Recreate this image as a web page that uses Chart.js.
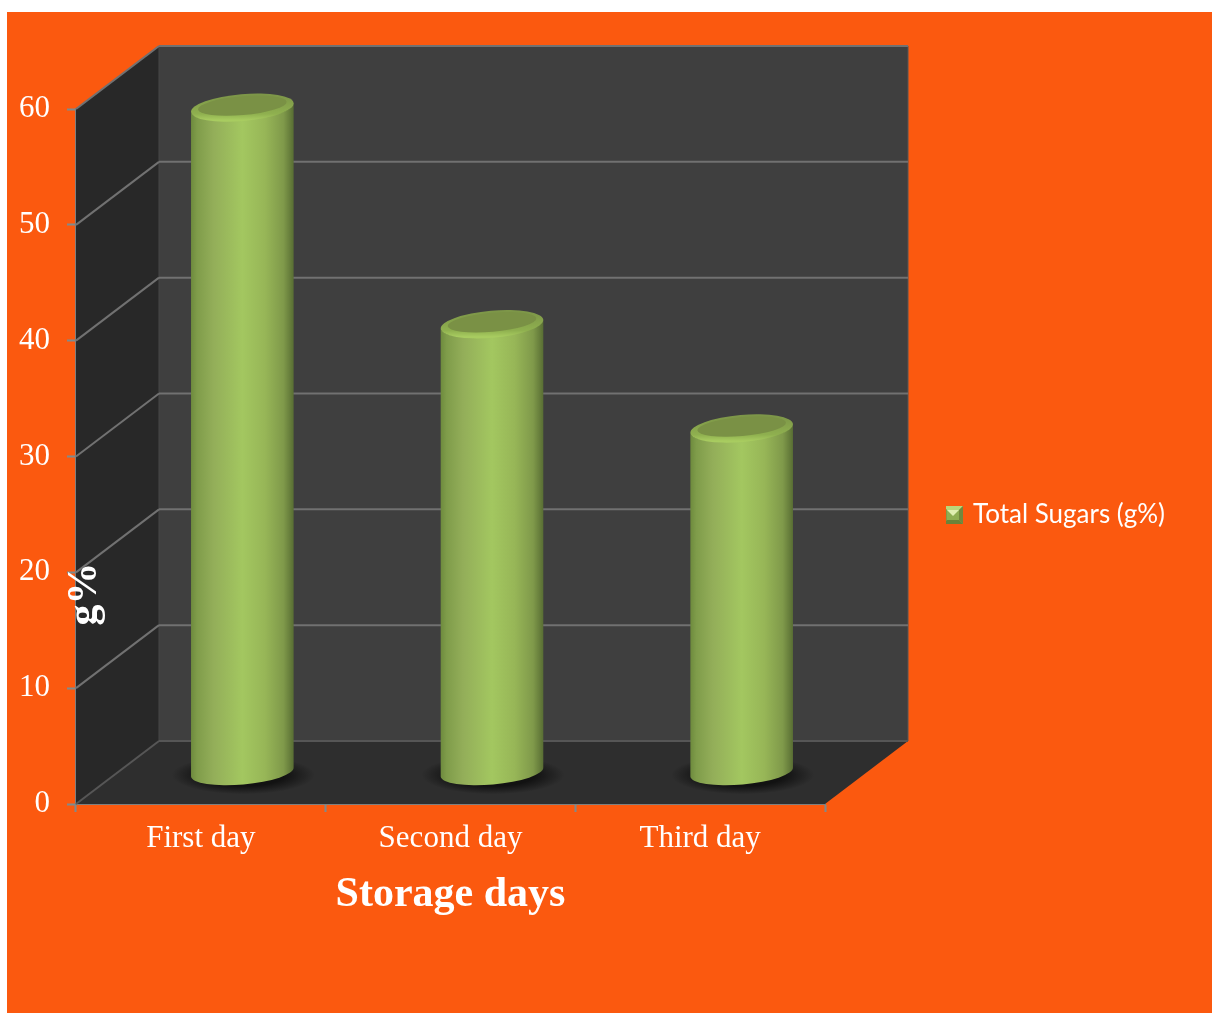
<!DOCTYPE html>
<html>
<head>
<meta charset="utf-8">
<title>Total Sugars</title>
<script src="https://cdn.jsdelivr.net/npm/chart.js@4"></script>
<style>
  html, body { margin: 0; padding: 0; background: #ffffff; }
  canvas { position: absolute; left: 7px; top: 12px; background: #fb590f; }
</style>
</head>
<body>
<canvas id="sugarChart" width="1205" height="1001"></canvas>
<script>
// ===== DATA =====
const categories = ['First day', 'Second day', 'Third day'];
const totalSugars = [57.4, 38.7, 29.7];
const seriesName = 'Total Sugars (g%)';
const yTickValues = [0, 10, 20, 30, 40, 50, 60];

// ===== 3D LOOK =====
const DEPTH_X = 83;
const DEPTH_Y = 63;
const TILT = -5 * Math.PI / 180;
const SERIF = '"Liberation Serif", serif';

function line(ctx, x1, y1, x2, y2, color, width) {
  ctx.strokeStyle = color;
  ctx.lineWidth = width;
  ctx.beginPath();
  ctx.moveTo(x1, y1);
  ctx.lineTo(x2, y2);
  ctx.stroke();
}

function poly(ctx, points, color) {
  ctx.fillStyle = color;
  ctx.beginPath();
  points.forEach((p, i) => i ? ctx.lineTo(p[0], p[1]) : ctx.moveTo(p[0], p[1]));
  ctx.closePath();
  ctx.fill();
}

// back wall, side wall, floor and the gridlines running over them
const wallsPlugin = {
  id: 'walls',
  beforeDatasetsDraw(chart) {
    const { ctx, chartArea: a, scales: { y } } = chart;
    const backLeft = a.left + DEPTH_X;
    const backRight = a.right + DEPTH_X;
    ctx.save();
    poly(ctx, [[backLeft, a.top - DEPTH_Y], [backRight, a.top - DEPTH_Y], [backRight, a.bottom - DEPTH_Y], [backLeft, a.bottom - DEPTH_Y]], '#3f3f3f');
    poly(ctx, [[a.left, a.top], [backLeft, a.top - DEPTH_Y], [backLeft, a.bottom - DEPTH_Y], [a.left, a.bottom]], '#282828');
    poly(ctx, [[a.left, a.bottom], [a.right, a.bottom], [backRight, a.bottom - DEPTH_Y], [backLeft, a.bottom - DEPTH_Y]], '#2e2e2e');
    line(ctx, backRight, a.top - DEPTH_Y, backRight, a.bottom - DEPTH_Y, '#565656', 1);
    line(ctx, backLeft, a.top - DEPTH_Y, backLeft, a.bottom - DEPTH_Y, '#474747', 1);
    yTickValues.forEach((v) => {
      const py = y.getPixelForValue(v);
      const color = v === 0 ? '#565656' : '#717171';
      line(ctx, a.left, py, backLeft, py - DEPTH_Y, color, 2);
      line(ctx, backLeft, py - DEPTH_Y, backRight, py - DEPTH_Y, color, 2);
    });
    ctx.restore();
  }
};

// the bars themselves are transparent, each one is drawn as a cylinder in the middle of the depth
const cylinderPlugin = {
  id: 'cylinders',
  afterDatasetsDraw(chart) {
    const { ctx } = chart;
    chart.getDatasetMeta(0).data.forEach((bar) => {
      const cx = bar.x + DEPTH_X / 2;
      const rx = bar.width / 2;
      const ry = 12.5;
      const topY = bar.y - DEPTH_Y / 2;
      const baseY = bar.base - DEPTH_Y / 2;
      ctx.save();

      // soft shadow on the floor
      ctx.save();
      ctx.translate(cx + 1, baseY + 3);
      ctx.scale(1, 0.27);
      const shadow = ctx.createRadialGradient(0, 0, rx * 0.8, 0, 0, rx + 20);
      shadow.addColorStop(0, 'rgba(15,15,15,0.9)');
      shadow.addColorStop(1, 'rgba(15,15,15,0)');
      ctx.fillStyle = shadow;
      ctx.beginPath();
      ctx.arc(0, 0, rx + 20, 0, Math.PI * 2);
      ctx.fill();
      ctx.restore();

      // body
      const body = ctx.createLinearGradient(cx - rx, 0, cx + rx, 0);
      body.addColorStop(0, '#6d8a3d');
      body.addColorStop(0.06, '#7f9c4a');
      body.addColorStop(0.22, '#93ae59');
      body.addColorStop(0.5, '#a3c760');
      body.addColorStop(0.72, '#97b657');
      body.addColorStop(0.9, '#7f994a');
      body.addColorStop(1, '#586d33');
      ctx.fillStyle = body;
      ctx.beginPath();
      ctx.ellipse(cx, baseY, rx, ry, TILT, 0, Math.PI);
      ctx.ellipse(cx, topY, rx, ry, TILT, Math.PI, 0, true);
      ctx.closePath();
      ctx.fill();

      // top cap with its lighter rim
      const rim = ctx.createLinearGradient(0, topY - ry, 0, topY + ry);
      rim.addColorStop(0, '#7d9648');
      rim.addColorStop(0.75, '#8fb04f');
      rim.addColorStop(1, '#a8cc60');
      ctx.fillStyle = rim;
      ctx.beginPath();
      ctx.ellipse(cx, topY, rx, ry + 1, TILT, 0, Math.PI * 2);
      ctx.fill();
      ctx.fillStyle = '#7a9145';
      ctx.beginPath();
      ctx.ellipse(cx, topY - 2, rx - 7, ry - 3, TILT, 0, Math.PI * 2);
      ctx.fill();
      ctx.restore();
    });
  }
};

// y title sits over the axis line, lower than the scale title could go
const yTitlePlugin = {
  id: 'yTitle',
  afterDraw(chart) {
    const { ctx } = chart;
    ctx.save();
    ctx.translate(78, 582);
    ctx.rotate(-Math.PI / 2);
    ctx.fillStyle = '#ffffff';
    ctx.font = 'bold 42px ' + SERIF;
    ctx.textAlign = 'center';
    ctx.textBaseline = 'middle';
    ctx.fillText('g%', 0, 0);
    ctx.restore();
  }
};

// legend goes to the right of the plot, next to the wall
const legendPlace = {
  id: 'legendPlace',
  afterLayout(chart) {
    const l = chart.legend;
    const w = l.width;
    const h = l.height;
    l.left = 939;
    l.top = 490;
    l.right = l.left + w;
    l.bottom = l.top + h;
  }
};

// small bevelled square for the legend
function legendIcon() {
  const c = document.createElement('canvas');
  c.width = 20;
  c.height = 18;
  const g = c.getContext('2d');
  g.fillStyle = '#8fae52';
  g.fillRect(0, 0, 20, 18);
  poly(g, [[0, 0], [20, 0], [16, 4], [4, 4]], '#b9d77a');
  poly(g, [[0, 0], [4, 4], [4, 14], [0, 18]], '#7f9c48');
  poly(g, [[20, 0], [16, 4], [16, 14], [20, 18]], '#71883e');
  poly(g, [[0, 18], [4, 14], [16, 14], [20, 18]], '#6a8239');
  poly(g, [[4, 4], [16, 4], [10, 10]], '#e0efb0');
  return c;
}

// ===== CHART =====
new Chart(document.getElementById('sugarChart'), {
  type: 'bar',
  data: {
    labels: categories,
    datasets: [{
      label: seriesName,
      data: totalSugars,
      backgroundColor: 'transparent',
      borderWidth: 0,
      barPercentage: 0.4125,
      categoryPercentage: 1
    }]
  },
  options: {
    responsive: false,
    animation: false,
    layout: { padding: { top: 97, left: 0, right: 387, bottom: 93 } },
    scales: {
      x: {
        afterFit(scale) { scale.height = 116; },
        grid: { offset: true, drawOnChartArea: false, tickLength: 8, tickWidth: 2, tickColor: '#7f8a8c' },
        border: { color: '#7f7f7f', width: 2 },
        ticks: { color: '#ffffff', font: { family: SERIF, size: 31 }, padding: 8, maxRotation: 0 },
        title: { display: true, text: 'Storage days', color: '#ffffff', font: { family: SERIF, size: 42, weight: 'bold' }, padding: 0 }
      },
      y: {
        min: 0,
        max: 60,
        afterFit(scale) { scale.width = 69; },
        grid: { drawOnChartArea: false, tickLength: 9, tickWidth: 2, tickColor: '#7f8a8c' },
        border: { color: '#7f7f7f', width: 2 },
        ticks: { stepSize: 10, color: '#ffffff', font: { family: SERIF, size: 31 }, padding: 17 }
      }
    },
    plugins: {
      tooltip: { enabled: false },
      legend: {
        position: 'chartArea',
        align: 'start',
        labels: {
          color: '#ffffff',
          font: { family: 'Lato, sans-serif', size: 26 },
          usePointStyle: true,
          pointStyle: legendIcon(),
          pointStyleWidth: 14,
          padding: 0
        }
      }
    }
  },
  plugins: [wallsPlugin, cylinderPlugin, yTitlePlugin, legendPlace]
});
</script>
</body>
</html>
